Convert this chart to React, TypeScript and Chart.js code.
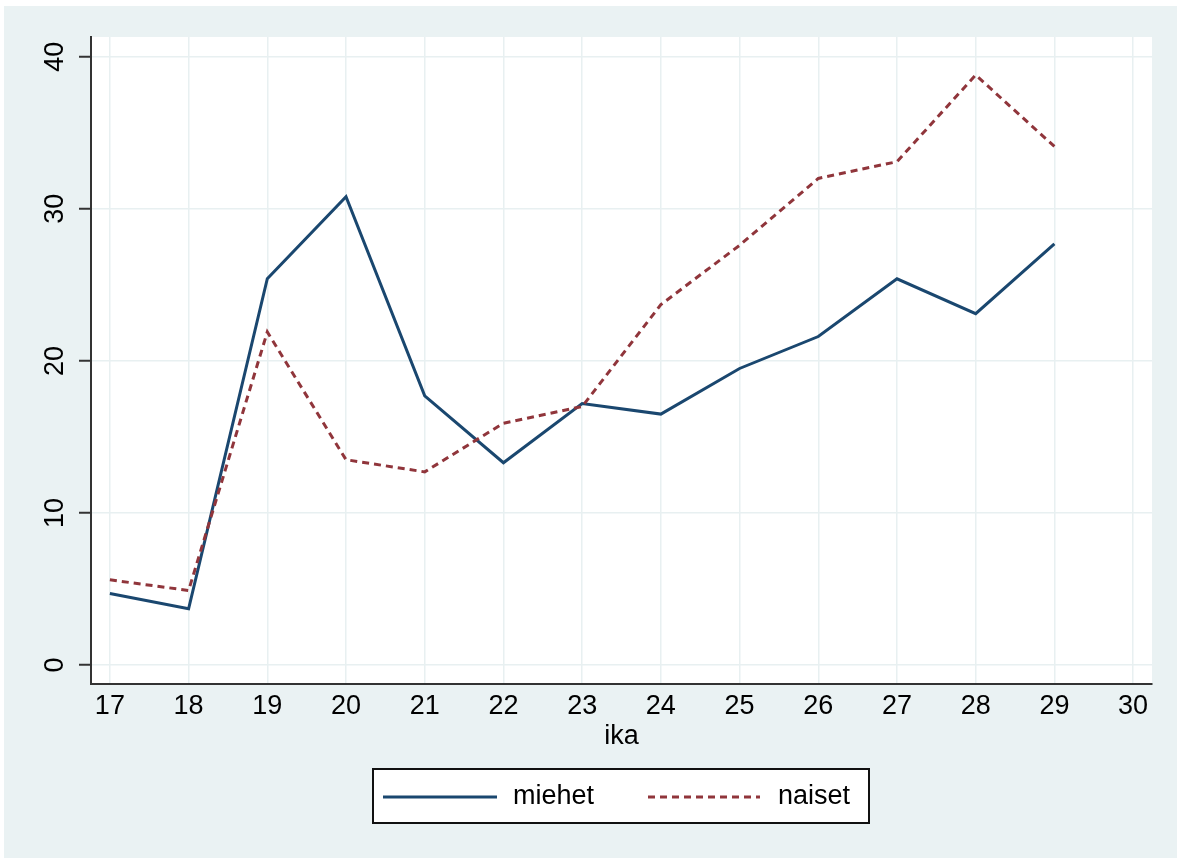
import React, { useEffect, useRef } from "react";
import { Chart, registerables } from "chart.js";

Chart.register(...registerables);

const ages = [17, 18, 19, 20, 21, 22, 23, 24, 25, 26, 27, 28, 29];
const miehet = [4.7, 3.7, 25.4, 30.8, 17.7, 13.3, 17.2, 16.5, 19.5, 21.6, 25.4, 23.1, 27.7];
const naiset = [5.6, 4.9, 21.9, 13.5, 12.7, 15.9, 17.0, 23.7, 27.6, 32.0, 33.1, 38.8, 34.1];
const xTicks = [17, 18, 19, 20, 21, 22, 23, 24, 25, 26, 27, 28, 29, 30];
const yTicks = [0, 10, 20, 30, 40];
const seriesLabels = ["miehet", "naiset"];
const xTitle = "ika";

const W = 1177;
const H = 859;
const NAVY = "#1A476F";
const MAROON = "#90353B";
const OUTER_BG = "#EAF2F3";
const GRID = "#E8F0F1";
const AXIS = "#333333";
const FONT_FAMILY = "'Liberation Sans', Arial, Helvetica, sans-serif";
const FONT_SIZE = 27;

const backgroundPlugin = {
  id: "stataBackground",
  beforeDraw(chart: any) {
    const { ctx, chartArea } = chart;
    ctx.save();
    ctx.fillStyle = "#FFFFFF";
    ctx.fillRect(0, 0, W, H);
    ctx.fillStyle = OUTER_BG;
    ctx.fillRect(4, 6, W - 4, 852);
    ctx.fillStyle = "#FFFFFF";
    ctx.fillRect(chartArea.left, chartArea.top, chartArea.right - chartArea.left, chartArea.bottom - chartArea.top);
    ctx.restore();
  },
};

const legendPlugin = {
  id: "stataLegend",
  afterDraw(chart: any) {
    const { ctx } = chart;
    const ds = chart.data.datasets;
    ctx.save();
    ctx.fillStyle = "#FFFFFF";
    ctx.fillRect(372, 768, 498, 55);
    ctx.strokeStyle = "#111111";
    ctx.lineWidth = 2;
    ctx.strokeRect(373, 769, 496, 54);
    const cy = 797;
    const items = [
      { x0: 383, x1: 497, tx: 513 },
      { x0: 648, x1: 760, tx: 778 },
    ];
    items.forEach((it, i) => {
      const d = ds[i];
      ctx.beginPath();
      ctx.strokeStyle = d.borderColor;
      ctx.lineWidth = 3;
      ctx.setLineDash(d.borderDash || []);
      ctx.moveTo(it.x0, cy);
      ctx.lineTo(it.x1, cy);
      ctx.stroke();
      ctx.setLineDash([]);
      ctx.fillStyle = "#000000";
      ctx.font = `${FONT_SIZE}px ${FONT_FAMILY}`;
      ctx.textBaseline = "middle";
      ctx.textAlign = "left";
      ctx.fillText(d.label, it.tx, cy);
    });
    ctx.restore();
  },
};

export default function App() {
  const ref = useRef<HTMLCanvasElement | null>(null);

  useEffect(() => {
    if (!ref.current) return;
    const tickFont = { family: FONT_FAMILY, size: FONT_SIZE, lineHeight: 1.2 };
    const chart = new Chart(ref.current, {
      type: "line",
      data: {
        datasets: [
          {
            label: seriesLabels[0],
            data: ages.map((a, i) => ({ x: a, y: miehet[i] })),
            borderColor: NAVY,
            backgroundColor: NAVY,
            borderWidth: 3,
            pointRadius: 0,
            tension: 0,
            fill: false,
            order: 1,
          },
          {
            label: seriesLabels[1],
            data: ages.map((a, i) => ({ x: a, y: naiset[i] })),
            borderColor: MAROON,
            backgroundColor: MAROON,
            borderWidth: 3,
            borderDash: [7, 5],
            pointRadius: 0,
            tension: 0,
            fill: false,
            order: 0,
          },
        ],
      },
      options: {
        responsive: false,
        animation: false,
        devicePixelRatio: 1,
        layout: { padding: { left: 0, top: 37, right: W - 1152, bottom: H - 750 } },
        plugins: {
          legend: { display: false },
          tooltip: { enabled: false },
        },
        scales: {
          x: {
            type: "linear",
            min: 16.76,
            max: 30.24,
            afterBuildTicks: (s: any) => {
              s.ticks = xTicks.map((v) => ({ value: v }));
            },
            afterFit: (s: any) => {
              s.height = 66;
            },
            ticks: {
              autoSkip: false,
              maxRotation: 0,
              minRotation: 0,
              padding: 6,
              color: "#000000",
              font: tickFont,
              callback: (v: any) => String(v),
            },
            grid: { color: GRID, lineWidth: 1.5, drawTicks: false },
            border: { display: true, color: AXIS, width: 2 },
            title: {
              display: true,
              text: xTitle,
              color: "#000000",
              font: { family: FONT_FAMILY, size: FONT_SIZE, lineHeight: 1 },
              padding: 0,
            },
          },
          y: {
            type: "linear",
            min: -1.25,
            max: 41.3,
            afterBuildTicks: (s: any) => {
              s.ticks = yTicks.map((v) => ({ value: v }));
            },
            afterFit: (s: any) => {
              s.width = 91;
            },
            ticks: {
              minRotation: 90,
              maxRotation: 90,
              crossAlign: "center",
              padding: 8,
              color: "#000000",
              font: tickFont,
              callback: (v: any) => String(v),
            },
            grid: {
              color: GRID,
              lineWidth: 1.5,
              drawTicks: true,
              tickLength: 12,
              tickColor: AXIS,
              tickWidth: 2,
            },
            border: { display: true, color: AXIS, width: 2 },
          },
        },
      } as any,
      plugins: [backgroundPlugin, legendPlugin],
    });
    return () => chart.destroy();
  }, []);

  return (
    <div style={{ position: "fixed", left: 0, top: 0, width: W, height: H }}>
      <canvas ref={ref} width={W} height={H} style={{ display: "block" }} />
    </div>
  );
}
